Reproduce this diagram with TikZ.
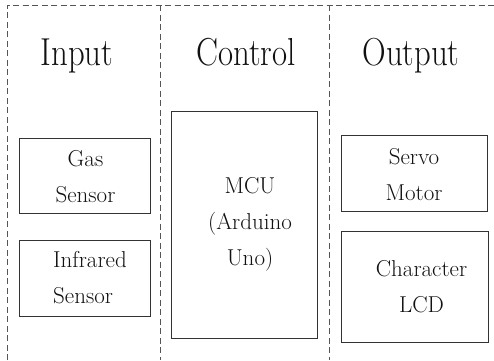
\documentclass[tikz,border=0pt]{standalone}
\definecolor{dashgray}{HTML}{555555}
\definecolor{boxgray}{HTML}{333333}
\definecolor{txt}{HTML}{111111}
\tikzset{
  divider/.style={draw=dashgray, line width=0.9pt, dash pattern=on 6pt off 3.5pt},
  blockbox/.style={draw=boxgray, line width=0.9pt, rectangle, inner sep=0pt},
  lbl/.style={align=center, text=txt, inner sep=0pt, font=\fontsize{23}{36}\selectfont},
  ttl/.style={text=txt, inner sep=0pt, anchor=base, font=\fontsize{39}{40}\selectfont}
}
\newcommand{\ttltext}[1]{\scalebox{0.84}[1]{#1}}
\begin{document}
\begin{tikzpicture}[x=1pt,y=-1pt]
\useasboundingbox (0,0) rectangle (494,360);
% frame and dividers
\coordinate (tl) at (7,5);
\coordinate (tr) at (494,5);
\coordinate (bl) at (7,360);
\coordinate (d1t) at (160,5);
\coordinate (d1b) at (160,360);
\coordinate (d2t) at (329,5);
\coordinate (d2b) at (329,360);
\draw[divider] (bl) -- (tl) -- (tr);
\draw[divider] (d1t) -- (d1b);
\draw[divider] (d2t) -- (d2b);
% titles
\node[ttl] (tin) at (77,65) {\ttltext{Input}};
\node[ttl] (tctl) at (246,65) {\ttltext{Control}};
\node[ttl] (tout) at (411,65) {\ttltext{Output}};
% boxes
\node[blockbox, minimum width=131pt, minimum height=75pt] (gas) at (84.5,175.5) {};
\node[blockbox, minimum width=131pt, minimum height=76pt] (ir) at (84.5,278) {};
\node[blockbox, minimum width=146pt, minimum height=227pt] (mcu) at (244,224.5) {};
\node[blockbox, minimum width=146pt, minimum height=76pt] (servo) at (414,173) {};
\node[blockbox, minimum width=147pt, minimum height=111pt] (lcd) at (414.5,286.5) {};
% labels
\node[lbl] (gast) at ([xshift=1pt,yshift=-1pt]gas.center) {Gas\\Sensor};
\node[lbl, align=left, anchor=west] (irt) at (ir.center -| 53,0) {Infrared\\Sensor};
\node[lbl] (mcut) at ([xshift=6pt]mcu.center) {MCU\\(Arduino\\Uno)};
\node[lbl] (servot) at ([yshift=-2pt]servo.center) {Servo\\Motor};
\node[lbl] (lcdt) at ([xshift=7pt]lcd.center) {Character\\LCD};
\end{tikzpicture}
\end{document}
